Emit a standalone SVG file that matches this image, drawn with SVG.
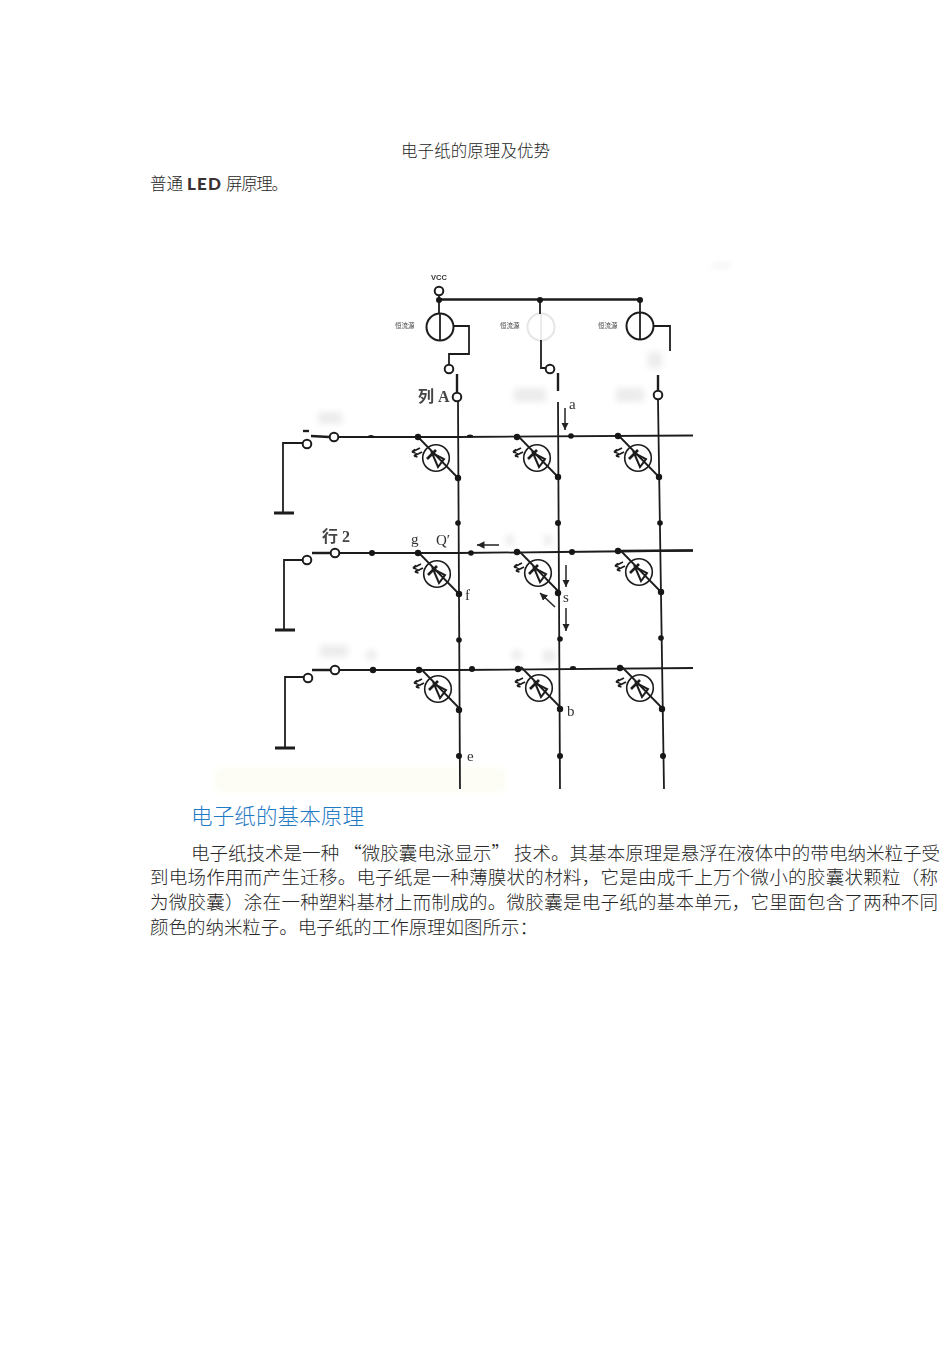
<svg xmlns="http://www.w3.org/2000/svg" width="950" height="1354" viewBox="0 0 950 1354">
<style>
.t{font-family:"Noto Sans CJK SC","Noto Sans",sans-serif;font-weight:300;fill:#262626}
.p{font-size:18.500px}
.w{fill:none;stroke:#1e1e1e;stroke-width:1.800}
.b{fill:none;stroke:#1e1e1e;stroke-width:2.400}
.g{fill:none;stroke:#1c1c1c;stroke-width:3.200}
.d{fill:#141414}
.o{fill:#fff;stroke:#1e1e1e;stroke-width:2}
.l{font-family:"Liberation Serif",serif;font-size:15px;fill:#333}
.c{font-family:"Liberation Serif","Noto Sans CJK SC",serif;font-size:16px;font-weight:700;fill:#444}
.m{font-family:"Noto Sans CJK SC",sans-serif;font-size:6.500px;fill:#444}
.a{fill:none;stroke:#222;stroke-width:1.500;marker-end:url(#ah)}
.s{fill:#ececec}
</style>
<defs>
<filter id="soft" x="-5%" y="-5%" width="110%" height="110%"><feGaussianBlur stdDeviation="0.45"/></filter>
<filter id="haze" x="-30%" y="-30%" width="160%" height="160%"><feGaussianBlur stdDeviation="3"/></filter>
<marker id="ah" markerWidth="6" markerHeight="6" refX="5" refY="2.500" orient="auto"><path d="M0 0L5 2.500L0 5z" fill="#222"/></marker>
<g id="led">
<circle r="13.300" fill="#fff" stroke="#1e1e1e" stroke-width="1.600"/>
<path d="M-18-21L22 20" class="w"/>
<path d="M-4-5L8 1L2 9z" fill="none" stroke="#1e1e1e" stroke-width="2"/>
<path d="M-9 1L0-8" fill="none" stroke="#1e1e1e" stroke-width="2.600"/>
<path d="M-16-10L-24-6M-24-6l3-2.500M-24-6l3.500 1M-14-6L-22-2M-22-2l3-2.500M-22-2l3.500 1" fill="none" stroke="#1e1e1e" stroke-width="1.800"/>
</g>
<g id="csrc">
<circle r="13.500" fill="#fff" stroke="#1e1e1e" stroke-width="2"/>
<path d="M0-13.500V13.500" class="w"/>
</g>
</defs>

<rect width="950" height="1354" fill="#fff"/>

<g id="title"><text class="t" x="401" y="157" font-size="16.500" textLength="149">电子纸的原理及优势</text></g>
<g id="subtitle">
<text class="t" x="150" y="190" font-size="16.500" textLength="33">普通</text>
<text x="187" y="190" font-family="Lato,sans-serif" font-weight="900" font-size="17" fill="#3a3030" textLength="34">LED</text>
<text class="t" x="226" y="190" font-size="16.500" textLength="62">屏原理。</text>
</g>

<g id="smudges" filter="url(#haze)">
<rect x="215" y="768" width="290" height="24" fill="#fdfdf5"/>
<rect x="318" y="412" width="24" height="12" class="s"/>
<rect x="320" y="645" width="28" height="12" class="s"/>
<rect x="366" y="650" width="10" height="10" class="s"/>
<rect x="512" y="650" width="10" height="10" class="s"/>
<rect x="543" y="650" width="12" height="12" class="s"/>
<rect x="514" y="388" width="32" height="14" class="s"/>
<rect x="616" y="388" width="28" height="14" class="s"/>
<rect x="506" y="535" width="8" height="10" class="s"/>
<rect x="544" y="535" width="8" height="10" class="s"/>
<rect x="648" y="352" width="14" height="16" class="s"/>
<rect x="712" y="264" width="18" height="3" class="s"/>
</g>

<g id="diagram" filter="url(#soft)">
<g id="connectors">
<path class="b" d="M439 299.500H640"/>
<path class="w" d="M439 295V314M540 300V314M640 300V313"/>
<path class="w" d="M454 326H469V354H449V364"/>
<path class="w" d="M541 340V368H545"/>
<path class="w" d="M654 326H670V351"/>
<path class="b" d="M457 374V392M558 373V391M658 375V390"/>
<path class="w" d="M458 401L460 789M558 402L560 789M658 400L664 789"/>
<path class="w" d="M338 437H458L693 435.500"/>
<path class="w" d="M340 553H458L560 552L693 550.500"/>
<path class="b" d="M620 551L693 550.500"/>
<path class="w" d="M340 670H458L693 668"/>
<path class="b" d="M311 436L329 437M312 553H330M312 670H330"/>
<path class="w" d="M303 443H283V513M303 560H284V630M304 677H285V748"/>
<path class="g" d="M274 513H294M275 630H295M275 748H295"/>
<path class="b" d="M303 431H309"/>
</g>

<g id="bus-dots" class="d">
<circle cx="439" cy="300" r="3"/><circle cx="540" cy="300" r="3"/><circle cx="640" cy="300" r="3"/>
</g>

<g id="source-a"><use href="#csrc" x="440" y="327"/><text class="m" x="395" y="328">恒流源</text></g>
<g id="source-b" opacity="0.1"><use href="#csrc" x="541" y="327"/></g>
<text class="m" x="500" y="328">恒流源</text>
<g id="source-c"><use href="#csrc" x="640" y="326"/><text class="m" x="598" y="328">恒流源</text></g>

<g id="terminals">
<circle class="o" cx="439" cy="291" r="4.300"/>
<circle class="o" cx="449" cy="369" r="4.300"/>
<circle class="o" cx="550" cy="369" r="4.300"/>
<circle class="o" cx="457" cy="397" r="4.300"/>
<circle class="o" cx="658" cy="395" r="4.300"/>
<circle class="o" cx="307" cy="444" r="4.300"/><circle class="o" cx="334" cy="437" r="4.300"/>
<circle class="o" cx="307" cy="560" r="4.300"/><circle class="o" cx="335" cy="553" r="4.300"/>
<circle class="o" cx="308" cy="678" r="4.300"/><circle class="o" cx="335" cy="670" r="4.300"/>
</g>

<g id="led-1-1"><use href="#led" x="436" y="458"/></g>
<g id="led-1-2"><use href="#led" x="537" y="458"/></g>
<g id="led-1-3"><use href="#led" x="638" y="458"/></g>
<g id="led-2-1"><use href="#led" x="437" y="574"/></g>
<g id="led-2-2"><use href="#led" x="538" y="573"/></g>
<g id="led-2-3"><use href="#led" x="639" y="572"/></g>
<g id="led-3-1"><use href="#led" x="438" y="689"/></g>
<g id="led-3-2"><use href="#led" x="539" y="688"/></g>
<g id="led-3-3"><use href="#led" x="640" y="688"/></g>

<g id="junctions" class="d">
<circle cx="418" cy="437" r="3.200"/><circle cx="517" cy="437" r="3.200"/><circle cx="618" cy="436" r="3.200"/>
<circle cx="458" cy="478" r="3.200"/><circle cx="558" cy="477" r="3.200"/><circle cx="659" cy="477" r="3.200"/>
<circle cx="418" cy="553" r="3.200"/><circle cx="517" cy="552" r="3.200"/><circle cx="618" cy="551" r="3.200"/>
<circle cx="459" cy="594" r="3.200"/><circle cx="558" cy="593" r="3.200"/><circle cx="661" cy="592" r="3.200"/>
<circle cx="419" cy="670" r="3.200"/><circle cx="518" cy="669" r="3.200"/><circle cx="620" cy="668" r="3.200"/>
<circle cx="459" cy="710" r="3.200"/><circle cx="560" cy="709" r="3.200"/><circle cx="662" cy="709" r="3.200"/>
<ellipse cx="371" cy="436.500" rx="3" ry="1.500"/><ellipse cx="470" cy="436" rx="3" ry="1.500"/><circle cx="571" cy="436" r="2.800"/>
<circle cx="372" cy="553" r="3"/><circle cx="471" cy="553" r="2.800"/><circle cx="572" cy="552" r="3"/>
<circle cx="373" cy="670" r="3.200"/><circle cx="472" cy="669" r="3"/><ellipse cx="573" cy="668" rx="3" ry="2"/>
<circle cx="458" cy="523" r="2.800"/><circle cx="558" cy="523" r="3"/><circle cx="660" cy="523" r="2.800"/>
<circle cx="459" cy="640" r="2.800"/><circle cx="560" cy="639" r="2.800"/><circle cx="661" cy="638" r="2.800"/>
<circle cx="459" cy="756" r="3"/><circle cx="560" cy="756" r="3"/><circle cx="663" cy="756" r="3"/>
</g>

<g id="current-arrows">
<path class="a" d="M565 408V430"/>
<path class="a" d="M499 545H477"/>
<path class="a" d="M566 565V587"/>
<path class="a" d="M566 608V631"/>
<path class="a" d="M555 607L540 593"/>
</g>

<g id="labels">
<text x="439" y="280" text-anchor="middle" font-family="Liberation Sans,sans-serif" font-size="7.500" font-weight="700" fill="#333">VCC</text>
<text class="c" x="418" y="402">列 A</text>
<text class="c" x="322" y="542">行 2</text>
<text class="l" x="569" y="409">a</text>
<text class="l" x="411" y="544">g</text>
<text class="l" x="436" y="545">Q′</text>
<text class="l" x="465" y="600">f</text>
<text class="l" x="563" y="602">s</text>
<text class="l" x="567" y="716">b</text>
<text class="l" x="467" y="761">e</text>
</g>
</g>

<g id="body">
<text class="t" x="191" y="824" font-size="21.500" style="fill:#1f7ac4" textLength="173">电子纸的基本原理</text>
<text class="t p" x="191" y="860" textLength="749">电子纸技术是一种 “微胶囊电泳显示” 技术。其基本原理是悬浮在液体中的带电纳米粒子受</text>
<text class="t p" x="150" y="884" textLength="788">到电场作用而产生迁移。电子纸是一种薄膜状的材料，它是由成千上万个微小的胶囊状颗粒（称</text>
<text class="t p" x="150" y="909" textLength="788">为微胶囊）涂在一种塑料基材上而制成的。微胶囊是电子纸的基本单元，它里面包含了两种不同</text>
<text class="t p" x="150" y="934" textLength="388">颜色的纳米粒子。电子纸的工作原理如图所示：</text>
</g>
</svg>
